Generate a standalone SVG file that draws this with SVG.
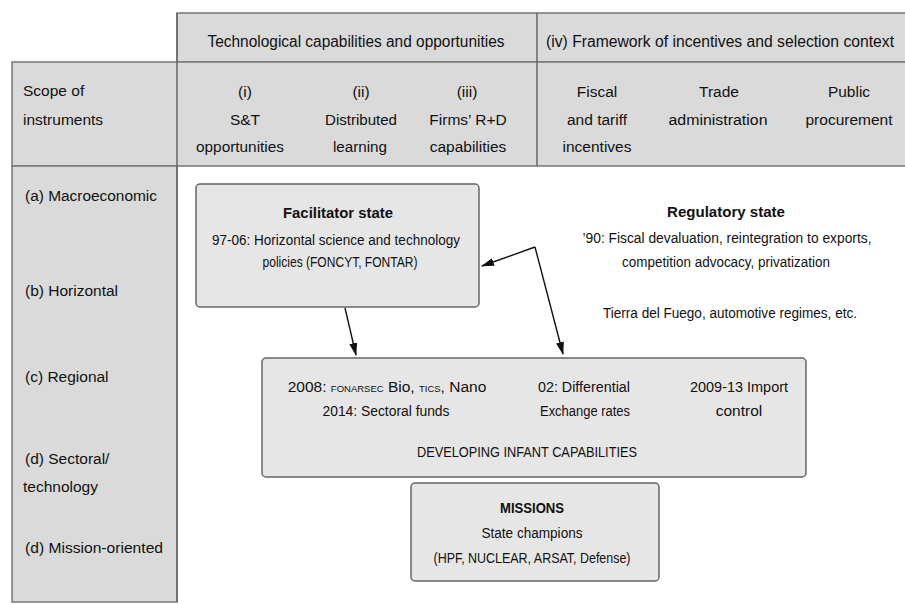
<svg xmlns="http://www.w3.org/2000/svg" width="905" height="604" viewBox="0 0 905 604">
<defs>
<style>
text{font-family:"Liberation Sans",Arial,sans-serif;fill:#111;}
.h{font-size:16px;text-anchor:middle;}
.c{font-size:15.5px;text-anchor:middle;}
.l{font-size:15.5px;}
.b{font-weight:bold;}
.sc{font-size:9.5px;}
.cell{fill:#dadada;stroke:#777;stroke-width:1.5;}
.box{fill:#e6e6e6;stroke:#666;stroke-width:1.5;}
.conn{fill:none;stroke:#111;stroke-width:1.4;}
</style>
<marker id="ah" viewBox="0 0 13 8" refX="12" refY="4" markerWidth="13" markerHeight="8" markerUnits="userSpaceOnUse" orient="auto">
<path d="M0,0 L13,4 L0,8 Z" fill="#111"/>
</marker>
</defs>
<g id="table">
<rect class="cell" x="177" y="13" width="730" height="49"/>
<rect class="cell" x="12" y="62" width="895" height="104"/>
<rect class="cell" x="12" y="166" width="165" height="436"/>
<line x1="537" y1="13" x2="537" y2="166" stroke="#666" stroke-width="1.5"/>
<line x1="177" y1="13" x2="177" y2="602" stroke="#666" stroke-width="1.5"/>
<text class="h" x="356" y="47" textLength="297" lengthAdjust="spacingAndGlyphs">Technological capabilities and opportunities</text>
<text class="h" x="720" y="47" textLength="348" lengthAdjust="spacingAndGlyphs">(iv) Framework of incentives and selection context</text>
<text class="l" x="23" y="96">Scope of</text>
<text class="l" x="23" y="125">instruments</text>
<text class="c" x="245" y="97">(i)</text>
<text class="c" x="245" y="125">S&amp;T</text>
<text class="c" x="240" y="152" textLength="88" lengthAdjust="spacingAndGlyphs">opportunities</text>
<text class="c" x="361" y="97">(ii)</text>
<text class="c" x="361" y="125" textLength="72" lengthAdjust="spacingAndGlyphs">Distributed</text>
<text class="c" x="360" y="152" textLength="54" lengthAdjust="spacingAndGlyphs">learning</text>
<text class="c" x="467" y="97">(iii)</text>
<text class="c" x="468" y="125">Firms’ R+D</text>
<text class="c" x="468" y="152">capabilities</text>
<text class="c" x="597" y="97">Fiscal</text>
<text class="c" x="597" y="125">and tariff</text>
<text class="c" x="597" y="152">incentives</text>
<text class="c" x="719" y="97">Trade</text>
<text class="c" x="718" y="125" textLength="99" lengthAdjust="spacingAndGlyphs">administration</text>
<text class="c" x="849" y="97">Public</text>
<text class="c" x="849" y="125" textLength="87" lengthAdjust="spacingAndGlyphs">procurement</text>
<text class="l" x="25" y="201" textLength="132" lengthAdjust="spacingAndGlyphs">(a) Macroeconomic</text>
<text class="l" x="25" y="296">(b) Horizontal</text>
<text class="l" x="25" y="382">(c) Regional</text>
<text class="l" x="25" y="464">(d) Sectoral/</text>
<text class="l" x="23" y="492">technology</text>
<text class="l" x="25" y="553" textLength="138" lengthAdjust="spacingAndGlyphs">(d) Mission-oriented</text>
</g>
<g id="facilitator">
<rect class="box" x="196" y="184" width="283" height="123" rx="4"/>
<text class="c b" x="338" y="218" font-size="16px" textLength="110" lengthAdjust="spacingAndGlyphs">Facilitator state</text>
<text class="c" x="336" y="245" textLength="248" lengthAdjust="spacingAndGlyphs">97-06: Horizontal science and technology</text>
<text class="c" x="340" y="267" textLength="155" lengthAdjust="spacingAndGlyphs">policies  (FONCYT, FONTAR)</text>
</g>
<g id="regulatory">
<text class="c b" x="726" y="217" font-size="16px" textLength="118" lengthAdjust="spacingAndGlyphs">Regulatory state</text>
<text class="c" x="727" y="243" font-size="14.5px" textLength="289" lengthAdjust="spacingAndGlyphs">’90: Fiscal devaluation, reintegration to exports,</text>
<text class="c" x="726" y="267" textLength="208" lengthAdjust="spacingAndGlyphs">competition advocacy, privatization</text>
<text class="c" x="730" y="318" textLength="254" lengthAdjust="spacingAndGlyphs">Tierra del Fuego, automotive regimes, etc.</text>
</g>
<g id="developing">
<rect class="box" x="262" y="358" width="544" height="119" rx="4"/>
<text class="c" x="387" y="392" font-size="14px">2008: <tspan class="sc">FONARSEC</tspan> Bio, <tspan class="sc">TICS</tspan>, Nano</text>
<text class="c" x="386" y="416" textLength="127" lengthAdjust="spacingAndGlyphs">2014: Sectoral funds</text>
<text class="c" x="584" y="392" textLength="92" lengthAdjust="spacingAndGlyphs">02: Differential</text>
<text class="c" x="585" y="416" textLength="90" lengthAdjust="spacingAndGlyphs">Exchange rates</text>
<text class="c" x="739" y="392" textLength="98" lengthAdjust="spacingAndGlyphs">2009-13 Import</text>
<text class="c" x="739" y="416">control</text>
<text class="c" x="527" y="457" textLength="220" lengthAdjust="spacingAndGlyphs">DEVELOPING INFANT CAPABILITIES</text>
</g>
<g id="missions">
<rect class="box" x="411" y="483" width="248" height="98" rx="4"/>
<text class="c b" x="532" y="513" textLength="64" lengthAdjust="spacingAndGlyphs">MISSIONS</text>
<text class="c" x="532" y="538" textLength="101" lengthAdjust="spacingAndGlyphs">State champions</text>
<text class="c" x="532" y="563" textLength="197" lengthAdjust="spacingAndGlyphs">(HPF, NUCLEAR, ARSAT, Defense)</text>
</g>
<g id="connectors">
<path class="conn" d="M345,308 L356,355" marker-end="url(#ah)"/>
<path class="conn" d="M535,247 L482,266" marker-end="url(#ah)"/>
<path class="conn" d="M535,247 L563,354" marker-end="url(#ah)"/>
</g>
</svg>
